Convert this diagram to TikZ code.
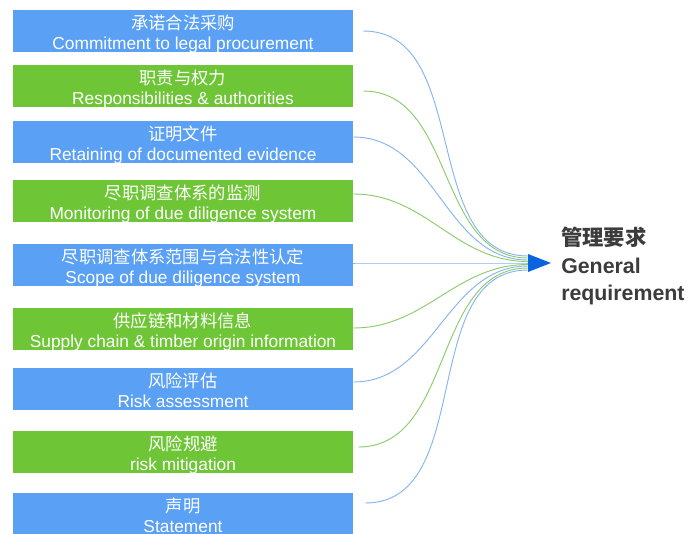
\documentclass[tikz,border=0pt]{standalone}
\usepackage{fontspec}
\setmainfont{Liberation Sans}
\newfontfamily\cjk{Noto Sans CJK SC}
\usepackage{tikz}

\definecolor{boxblue}{HTML}{5AA0F5}
\definecolor{boxgreen}{HTML}{6EC636}
\definecolor{lineblue}{HTML}{86B4F0}
\definecolor{linegreen}{HTML}{8CCB6A}
\definecolor{tipblue}{HTML}{0A64E0}
\definecolor{titlegray}{HTML}{3C3C3C}

% two-line box text, Chinese on top
\newcommand{\itemtext}[2]{\rule{0pt}{12pt}{\cjk #1}\\\raisebox{0pt}[\height][0pt]{#2}}

\tikzset{
    itembox/.style={rectangle,
        minimum width = 255pt,
        minimum height = 31.5pt,
        inner sep = 0pt,
        align = center,
        text = white,
        font = \fontsize{13}{15}\selectfont},
    bluebox/.style={itembox, fill=boxblue},
    greenbox/.style={itembox, fill=boxgreen}
}

\begin{document}
\begin{tikzpicture}[x=0.75pt, y=-0.75pt]
    \useasboundingbox (0,0) rectangle (690,533);

    % requirement boxes
    \node[bluebox] (b1) at (183,31) {\itemtext{承诺合法采购}{Commitment to legal procurement}};
    \node[greenbox] (b2) at (183,86) {\itemtext{职责与权力}{Responsibilities \& authorities}};
    \node[bluebox] (b3) at (183,142) {\itemtext{证明文件}{Retaining of documented evidence}};
    \node[greenbox] (b4) at (183,201) {\itemtext{尽职调查体系的监测}{Monitoring of due diligence system}};
    \node[bluebox] (b5) at (183,265) {\itemtext{尽职调查体系范围与合法性认定}{Scope of due diligence system}};
    \node[greenbox] (b6) at (183,329) {\itemtext{供应链和材料信息}{Supply chain \& timber origin information}};
    \node[bluebox] (b7) at (183,389) {\itemtext{风险评估}{Risk assessment}};
    \node[greenbox] (b8) at (183,452) {\itemtext{风险规避}{risk mitigation}};
    \node[bluebox] (b9) at (183,514) {\itemtext{声明}{Statement}};

    % arrow head
    \coordinate (hub) at (528,263);
    \fill[tipblue] (hub) ++(0,-9) -- ++(23,9) -- ++(-23,9) -- cycle;

    % title
    \node[anchor=west,
    align=left,
    inner sep=0pt,
    text=titlegray,
    font=\bfseries\fontsize{16}{20.5}\selectfont] (title) at (561,266)
    {{\cjk 管理要求}\\General\\requirement};

    % drawing connectors
    \foreach \b/\sx/\sy/\ey/\c in {b1/10/0/-7/lineblue, b2/10/5/-5/linegreen,
        b3/0/-5/-3/lineblue, b4/0/-7/-1.5/linegreen, b5/0/-2/0/lineblue,
        b6/0/-1/1.5/linegreen, b7/0/-7/3/lineblue, b8/5/-5/5/linegreen,
        b9/12/-11/7/lineblue}
    {
        \draw[\c, line width=0.7pt] ([shift={(\sx,\sy)}]\b.east) to[out=0,in=180] ([shift={(0,\ey)}]hub);
    }

\end{tikzpicture}
\end{document}
